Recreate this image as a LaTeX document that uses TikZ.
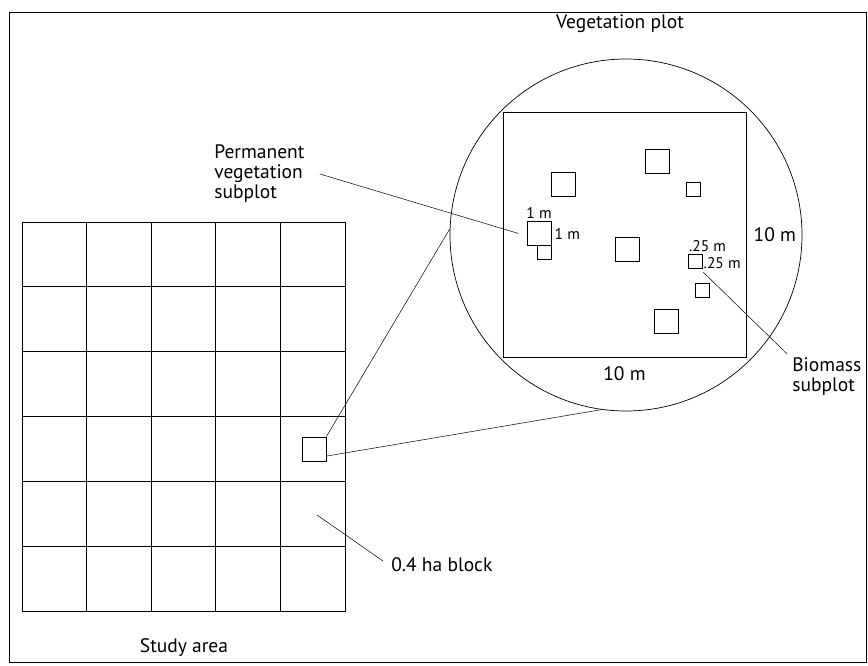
\documentclass[tikz,border=0pt]{standalone}
\usepackage{fontspec}
\setmainfont{PT Sans}
\usetikzlibrary{positioning}

\begin{document}
\begin{tikzpicture}[
    x=1pt, y=-1pt,
    line width=0.7pt,
    sub/.style={rectangle, draw, minimum size=24pt, inner sep=0pt},
    bio/.style={rectangle, draw, minimum size=14pt, inner sep=0pt},
    lbl/.style={font=\fontsize{19.5}{20}\selectfont, align=left, inner sep=1pt},
    dim/.style={font=\fontsize{15.5}{16}\selectfont, inner sep=1pt},
    leader/.style={line width=0.5pt}
]
\useasboundingbox (0,0) rectangle (868,665);
\draw (9,12) rectangle (866,662);

% study area grid
\draw (22,222) rectangle (345,611);
\foreach \k in {1,...,4} \draw ({22+64.6*\k},222) -- ({22+64.6*\k},611);
\foreach \k in {1,...,5} \draw (22,{222+64.83*\k}) -- (345,{222+64.83*\k});
\node[sub] (blk) at (314,449) {};
\node[lbl] (area) at (184,648) {Study area};
\node[lbl, anchor=west] (halab) at (390,565) {0.4 ha block};
\coordinate (hastart) at (317,515);
\coordinate[above left=4pt and 7pt of halab.west] (haend);
\draw[leader] (hastart) -- (haend);

% vegetation plot
\node[circle, draw, minimum size=352pt, inner sep=0pt] (vp) at (626,235) {};
\node[draw, minimum width=243pt, minimum height=245pt, inner sep=0pt] (plot) at (624.5,234.5) {};
\node[lbl] (vptitle) at (620,24) {Vegetation plot};
\node[lbl, right=6pt of plot] (side) {10 m};
\node[lbl, below=8pt of plot] (base) {10 m};

\node[sub] (s1) at (563.5,184) {};
\node[sub] (s2) at (657.5,161) {};
\node[bio] (b1) at (693.5,189.5) {};
\node[sub] (pv) at (539,233.5) {};
\node[bio] (b2) at (544.5,252) {};
\node[sub] (s3) at (627,249) {};
\node[bio] (bm) at (695,261) {};
\node[bio] (b3) at (702.5,290) {};
\node[sub] (s4) at (666,321) {};

\node[dim, above=1pt of pv] {1 m};
\node[dim, right=2pt of pv] {1 m};
\node[dim, anchor=south west] at ([yshift=1pt]bm.north west) {.25 m};
\node[dim, right=0pt of bm, yshift=-2pt] {.25 m};

% labels and leaders
\node[lbl, anchor=west] (pvlab) at (213,174) {Permanent\\vegetation\\subplot};
\node[lbl, anchor=west] (bmlab) at (791,377) {Biomass\\subplot};
\coordinate[right=14pt of pvlab] (pvstart);
\coordinate[left=8pt of pv] (pvend);
\draw[leader] (pvstart) -- (pvend);
\coordinate[below right=4pt and 1pt of bm] (bmstart);
\coordinate[above left=3pt and 4pt of bmlab.north west] (bmend);
\draw[leader] (bmstart) -- (bmend);

\draw[leader] (blk.north east) -- (vp.178);
\draw[leader] (blk.-30) -- (vp.262);
\end{tikzpicture}
\end{document}
